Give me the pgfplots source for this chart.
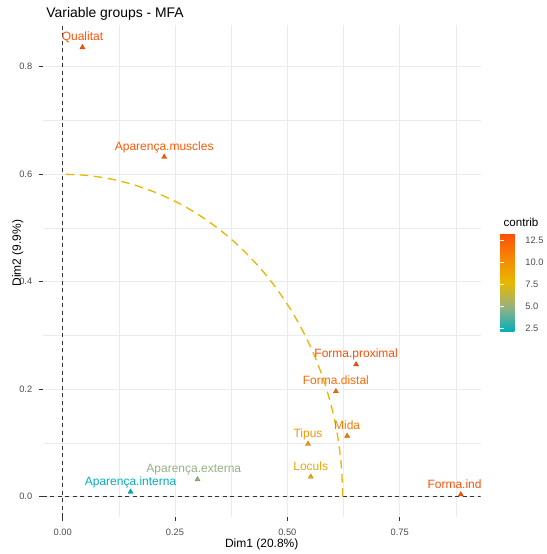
\documentclass[border=0pt]{standalone}
\usepackage{pgfplots}
\pgfplotsset{compat=1.18}
\usepackage{pgfplotstable}
\usepackage{fontspec}
\setmainfont{Liberation Sans}
\usetikzlibrary{calc}

\definecolor{gridc}{HTML}{EBEBEB}
\definecolor{tickc}{HTML}{4D4D4D}
\definecolor{tickm}{HTML}{333333}
\definecolor{circc}{HTML}{E7B800}

\pgfplotstableread{
idx x y contrib dx label
0 0.044 0.836 12.94 0 Qualitat
1 0.226 0.632 12.61 0 Aparença.muscles
2 0.653 0.246 13.26 0 Forma.proximal
3 0.608 0.196 11.82 0 Forma.distal
4 0.633 0.113 10.97 0 Mida
5 0.546 0.098 9.47 0 Tipus
6 0.552 0.037 8.66 0 Loculs
7 0.886 0.004 13.08 -6.3 Forma.ind
8 0.151 0.009 2.10 0 Aparença.interna
9 0.300 0.032 4.88 -3.7 Aparença.externa
}\groups

\begin{document}
\begin{tikzpicture}
\fill[white] (-42.9pt,-36.9pt) rectangle (503.1pt,517.1pt);
\begin{axis}[
  scale only axis, width=437.7pt, height=492.3pt,
  at={(0,0)}, anchor=south west,
  xmin=-0.044, xmax=0.930, ymin=-0.038, ymax=0.878,
  axis line style={draw=none},
  xtick={0,0.25,0.5,0.75}, xticklabels={0.00,0.25,0.50,0.75},
  ytick={0,0.2,0.4,0.6,0.8}, yticklabels={0.0,0.2,0.4,0.6,0.8},
  minor xtick={0.125,0.375,0.625,0.875}, minor ytick={0.1,0.3,0.5,0.7},
  grid=both,
  major grid style={gridc, line width=1.0pt},
  minor grid style={gridc, line width=0.6pt},
  tick align=outside, major tick length=3.6pt, minor tick length=0pt,
  tick pos=left,
  major tick style={color=tickm, line width=0.8pt},
  ticklabel style={font=\fontsize{9.3}{10}\selectfont, text=tickc, inner sep=0pt},
  xticklabel style={yshift=-8.5pt},
  yticklabel style={xshift=-6.9pt},
  xlabel={Dim1 (20.8\%)},
  xlabel style={at={(axis description cs:0.5,0)}, anchor=base, yshift=-30.7pt, font=\fontsize{12}{14}\selectfont},
  ylabel={Dim2 (9.9\%)},
  ylabel style={at={(axis description cs:-0.0503,0.536)}, anchor=base, font=\fontsize{12}{14}\selectfont},
  title={Variable groups - MFA},
  title style={at={(axis description cs:0,1)}, anchor=base west, yshift=0.8pt, font=\fontsize{13.9}{16}\selectfont},
  colormap={fx}{rgb255(0cm)=(0,175,187); rgb255(0.5cm)=(150,178,128); rgb255(1cm)=(231,184,0); rgb255(1.5cm)=(245,135,5); rgb255(2cm)=(252,78,7)},
  point meta min=2.10, point meta max=13.26,
  colorbar,
  colorbar style={
    at={($(parent axis.south east)+(10.9pt,185.4pt)$)}, anchor=south west,
    scale only axis, width=19.4pt, height=98.4pt,
    axis line style={draw=none},
    ytick={2.5,5,7.5,10,12.5}, yticklabels={2.5,5.0,7.5,10.0,12.5},
    ytick pos=both, yticklabel pos=right,
    tick align=inside, major tick length=3.8pt,
    major tick style={white, line width=0.7pt},
    yticklabel style={font=\fontsize{9.3}{10}\selectfont, text=tickc, inner sep=0pt, xshift=5.7pt},
    title={contrib},
    title style={at={(0,1)}, anchor=base west, yshift=0.5pt, font=\fontsize{11.6}{13}\selectfont},
  },
]
\addplot[tickm, line width=0.6pt, dash pattern=on 4pt off 3.5pt] coordinates {(-0.044,0) (0.930,0)};
\addplot[tickm, line width=0.6pt, dash pattern=on 4pt off 3.5pt] coordinates {(0,-0.038) (0,0.878)};
\addplot[scatter, only marks, mark=triangle*, mark size=2.9pt, point meta=explicit,
  visualization depends on={\thisrow{idx} \as \myidx},
  visualization depends on={\thisrow{dx} \as \mydx},
  nodes near coords*={\pgfmathtruncatemacro\ii{\myidx}\pgfplotstablegetelem{\ii}{label}\of\groups\pgfplotsretval},
  every node near coord/.append style={text=mapped color, anchor=base, yshift=6.5pt, xshift=\mydx pt, font=\fontsize{12}{14}\selectfont, inner sep=0pt}]
  table[x=x, y=y, meta=contrib]{\groups};
\addplot[circc, line width=1.3pt, dash pattern=on 8.5pt off 5.5pt, smooth] coordinates {
(0.6230,0.0000) (0.6206,0.0523) (0.6135,0.1042) (0.6018,0.1553) (0.5854,0.2052)
(0.5646,0.2536) (0.5395,0.3000) (0.5103,0.3441) (0.4772,0.3857) (0.4405,0.4243)
(0.4005,0.4596) (0.3573,0.4915) (0.3115,0.5196) (0.2633,0.5438) (0.2131,0.5638)
(0.1612,0.5796) (0.1082,0.5909) (0.0543,0.5977) (0.0000,0.6000)};
\end{axis}
\pgfresetboundingbox
\path[use as bounding box] (-42.9pt,-36.9pt) rectangle (503.1pt,517.1pt);
\end{tikzpicture}
\end{document}
